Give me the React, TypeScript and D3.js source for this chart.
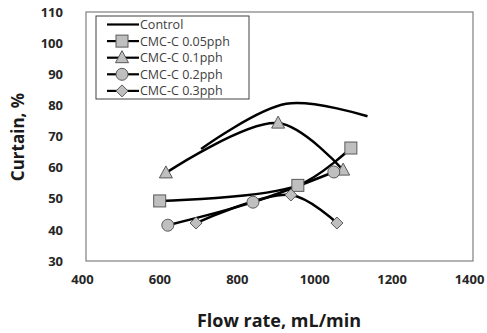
import * as React from 'react';
import * as d3 from 'd3';

const xTicks = [400, 600, 800, 1000, 1200, 1400];
const yTicks = [30, 40, 50, 60, 70, 80, 90, 100, 110];

const controlX = [700, 920, 1130];
const controlY = [66, 80.5, 76.5];
const pph005X = [593, 950, 1087];
const pph005Y = [49.3, 54.3, 66.3];
const pph01X = [609, 899, 1067];
const pph01Y = [58.3, 74.3, 59.2];
const pph02X = [614, 834, 1043];
const pph02Y = [41.5, 48.9, 58.6];
const pph03X = [687, 932, 1051];
const pph03Y = [42.2, 51.2, 42.2];

const seriesNames = ['Control', 'CMC-C 0.05pph', 'CMC-C 0.1pph', 'CMC-C 0.2pph', 'CMC-C 0.3pph'];
const markers = ['none', 'square', 'triangle', 'circle', 'diamond'];

const App = () => {
  const ref = React.useRef<SVGSVGElement | null>(null);

  React.useEffect(() => {
    const svg = d3.select(ref.current);
    svg.selectAll('*').remove();

    const left = 85, right = 472, top = 12, bottom = 261;
    const x = d3.scaleLinear().domain([400, 1400]).range([left, right]);
    const y = d3.scaleLinear().domain([30, 110]).range([bottom, top]);

    const font = 'Open Sans, DejaVu Sans, sans-serif';

    svg.append('rect').attr('width', 487).attr('height', 333).attr('fill', '#fff');

    svg.append('rect')
      .attr('x', left + 1).attr('y', top)
      .attr('width', right - left).attr('height', bottom - top)
      .attr('fill', 'none').attr('stroke', '#7f7f7f').attr('stroke-width', 1.2);

    const xAxis = svg.append('g').attr('transform', `translate(0,${bottom})`)
      .call(d3.axisBottom(x).tickValues(xTicks).tickFormat(d3.format('d')).tickSize(0).tickPadding(14));
    const yAxis = svg.append('g').attr('transform', `translate(${left},0)`)
      .call(d3.axisLeft(y).tickValues(yTicks).tickFormat(d3.format('d')).tickSize(0).tickPadding(22));
    svg.selectAll('.domain').remove();
    [xAxis, yAxis].forEach((a) => a.selectAll('.tick text')
      .style('font-family', font).style('font-size', '13px').style('font-weight', 'bold').style('fill', '#262626'));
    xAxis.selectAll('.tick text').attr('dx', -3);

    svg.append('text').text('Flow rate, mL/min')
      .attr('x', 279).attr('y', 327).attr('text-anchor', 'middle')
      .style('font-family', font).style('font-size', '18px').style('font-weight', 'bold').style('fill', '#1a1a1a');
    svg.append('text').text('Curtain, %')
      .attr('transform', 'translate(24,137) rotate(-90)').attr('text-anchor', 'middle')
      .style('font-family', font).style('font-size', '17px').style('font-weight', 'bold').style('fill', '#1a1a1a');

    const all = [
      [controlX, controlY], [pph005X, pph005Y], [pph01X, pph01Y], [pph02X, pph02Y], [pph03X, pph03Y],
    ];
    const line = d3.line<[number, number]>()
      .x((d) => x(d[0])).y((d) => y(d[1]))
      .curve(d3.curveCatmullRom.alpha(0.5));

    const drawMarker = (g, kind, cx, cy) => {
      const fill = '#bfbfbf', stroke = '#595959';
      if (kind === 'square') {
        g.append('rect').attr('x', cx - 6).attr('y', cy - 6).attr('width', 12).attr('height', 12)
          .attr('fill', fill).attr('stroke', stroke).attr('stroke-width', 1);
      } else if (kind === 'triangle') {
        g.append('path').attr('d', `M${cx},${cy - 7}L${cx + 6.5},${cy + 5}L${cx - 6.5},${cy + 5}Z`)
          .attr('fill', fill).attr('stroke', stroke).attr('stroke-width', 1);
      } else if (kind === 'circle') {
        g.append('circle').attr('cx', cx).attr('cy', cy).attr('r', 6)
          .attr('fill', fill).attr('stroke', stroke).attr('stroke-width', 1);
      } else if (kind === 'diamond') {
        g.append('path').attr('d', `M${cx},${cy - 6}L${cx + 6},${cy}L${cx},${cy + 6}L${cx - 6},${cy}Z`)
          .attr('fill', fill).attr('stroke', stroke).attr('stroke-width', 1);
      }
    };

    all.forEach(([xs, ys]) => {
      const pts = xs.map((v, j) => [v, ys[j]] as [number, number]);
      svg.append('path').attr('d', line(pts)).attr('fill', 'none')
        .attr('stroke', '#000').attr('stroke-width', 2.5);
    });
    all.forEach(([xs, ys], i) => {
      const g = svg.append('g');
      xs.forEach((v, j) => drawMarker(g, markers[i], x(v), y(ys[j])));
    });

    // legend
    const lg = svg.append('g');
    lg.append('rect').attr('x', 96).attr('y', 16).attr('width', 153).attr('height', 83)
      .attr('fill', '#fff').attr('stroke', '#404040').attr('stroke-width', 1);
    seriesNames.forEach((name, i) => {
      const cy = 24.5 + i * 16.6;
      lg.append('line').attr('x1', 107).attr('x2', 139).attr('y1', cy).attr('y2', cy)
        .attr('stroke', '#000').attr('stroke-width', 2.2);
      drawMarker(lg, markers[i], 122, cy);
      lg.append('text').text(name).attr('x', 140).attr('y', cy + 4.5)
        .style('font-family', font).style('font-size', '12.5px').style('fill', '#404040');
    });
  }, []);

  return (
    <svg ref={ref} width={487} height={333} style={{ display: 'block', position: 'absolute', left: 0, top: 0 }} />
  );
};

export default App;
